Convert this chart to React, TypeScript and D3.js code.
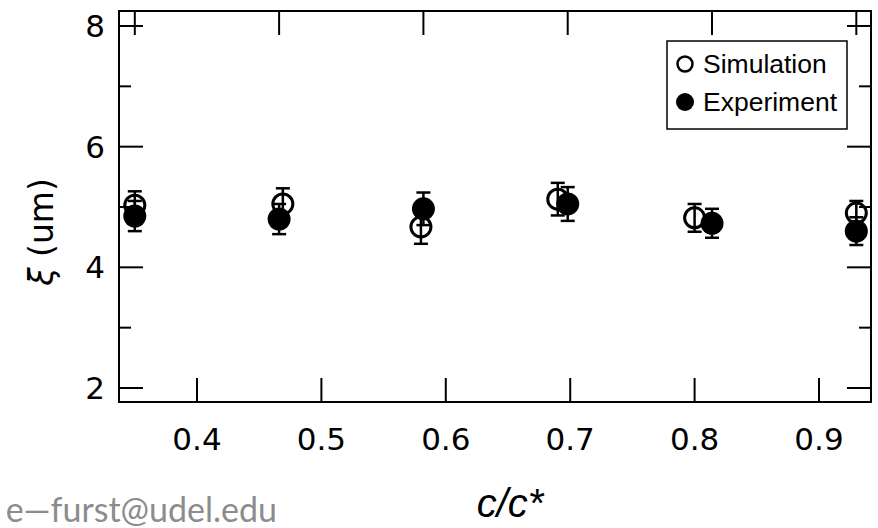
import React from "react";
import * as d3 from "d3";

const simX = [0.35, 0.469, 0.58, 0.69, 0.8, 0.93];
const simY = [5.03, 5.05, 4.67, 5.13, 4.82, 4.9];
const simErr = [0.23, 0.26, 0.28, 0.27, 0.23, 0.2];
const expX = [0.35, 0.466, 0.582, 0.698, 0.814, 0.93];
const expY = [4.85, 4.8, 4.97, 5.05, 4.73, 4.6];
const expErr = [0.25, 0.25, 0.27, 0.28, 0.24, 0.23];
const xTicks = [0.4, 0.5, 0.6, 0.7, 0.8, 0.9];
const yMajor = [2, 4, 6, 8];
const yMinor = [3, 5, 7];
const topTicks = [0.35, 0.466, 0.582, 0.698, 0.814, 0.93];

const W = 878, H = 528;
const L = 119, R = 871, T = 11, B = 402;

export default function App() {
  const x = d3.scaleLinear().domain([0.4, 0.9]).range([197, 819]);
  const y = d3.scaleLinear().domain([2, 8]).range([388, 26]);
  const tickFont = "'DejaVu Sans', Verdana, sans-serif";
  const sw = 2;
  const bar = (cx: number, cy: number, e: number, key: string) => {
    const t = y(cy + e), b = y(cy - e);
    return (
      <g key={key} stroke="#000" strokeWidth={2.5}>
        <line x1={x(cx)} x2={x(cx)} y1={t} y2={b} />
        <line x1={x(cx) - 7} x2={x(cx) + 7} y1={t} y2={t} />
        <line x1={x(cx) - 7} x2={x(cx) + 7} y1={b} y2={b} />
      </g>
    );
  };
  return (
    <svg width={W} height={H} style={{ position: "absolute", left: 0, top: 0, background: "#fff" }}>
      <rect x={0} y={0} width={W} height={H} fill="#fff" />
      <rect x={L} y={T} width={R - L} height={B - T} fill="none" stroke="#000" strokeWidth={sw} />
      {yMajor.map((v) => (
        <g key={"ym" + v} stroke="#000" strokeWidth={sw}>
          <line x1={L} x2={L + 24} y1={y(v)} y2={y(v)} />
          <line x1={R} x2={R - 24} y1={y(v)} y2={y(v)} />
        </g>
      ))}
      {yMinor.map((v) => (
        <g key={"yn" + v} stroke="#000" strokeWidth={sw}>
          <line x1={L} x2={L + 12} y1={y(v)} y2={y(v)} />
          <line x1={R} x2={R - 12} y1={y(v)} y2={y(v)} />
        </g>
      ))}
      {yMajor.map((v) => (
        <text key={"yl" + v} x={105} y={y(v)} dy="0.36em" textAnchor="end" fontFamily={tickFont} fontSize={31}>
          {v}
        </text>
      ))}
      {xTicks.map((v) => (
        <g key={"xt" + v}>
          <line x1={x(v)} x2={x(v)} y1={B} y2={B - 24} stroke="#000" strokeWidth={sw} />
          <text x={x(v)} y={450} textAnchor="middle" fontFamily={tickFont} fontSize={31}>
            {v.toFixed(1)}
          </text>
        </g>
      ))}
      {topTicks.map((v, i) => (
        <line key={"tt" + i} x1={x(v)} x2={x(v)} y1={T} y2={T + 24} stroke="#000" strokeWidth={sw} />
      ))}
      <text
        transform={`translate(53,232) rotate(-90)`}
        textAnchor="middle"
        fontFamily={tickFont}
        fontSize={33}
      >
        <tspan fontStyle="italic">ξ</tspan> (um)
      </text>
      <text x={510} y={517} textAnchor="middle" fontFamily="'Liberation Sans', Arial, sans-serif" fontStyle="italic" fontSize={40}>
        c/c*
      </text>
      <text x={277} y={522} textAnchor="end" fontFamily="Lato, 'Open Sans', sans-serif" fontSize={34} fill="#8c8c8c">
        e—furst@udel.edu
      </text>
      {simX.map((v, i) => bar(v, simY[i], simErr[i], "se" + i))}
      {simX.map((v, i) => (
        <circle key={"s" + i} cx={x(v)} cy={y(simY[i])} r={10} fill="none" stroke="#000" strokeWidth={3} />
      ))}
      {expX.map((v, i) => bar(v, expY[i], expErr[i], "ee" + i))}
      {expX.map((v, i) => (
        <circle key={"e" + i} cx={x(v)} cy={y(expY[i])} r={11.5} fill="#000" />
      ))}
      <rect x={667} y={41} width={180} height={88} fill="#fff" stroke="#000" strokeWidth={1.5} />
      <circle cx={685} cy={64} r={7.5} fill="none" stroke="#000" strokeWidth={2.5} />
      <circle cx={685} cy={102} r={9} fill="#000" />
      <text x={703} y={73} fontFamily="'Liberation Sans', Arial, sans-serif" fontSize={26.5}>Simulation</text>
      <text x={703} y={111} fontFamily="'Liberation Sans', Arial, sans-serif" fontSize={26.5}>Experiment</text>
    </svg>
  );
}
